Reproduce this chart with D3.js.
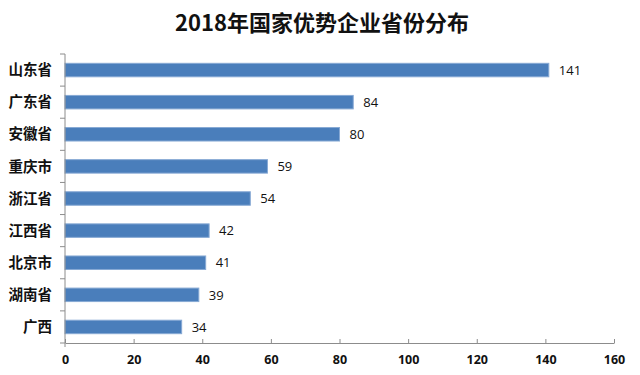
<!DOCTYPE html>
<html>
<head>
<meta charset="utf-8">
<script src="https://cdn.jsdelivr.net/npm/d3@7"></script>
<style>
body{margin:0;background:#fff;}
</style>
</head>
<body>
<script>
const provinces=["山东省","广东省","安徽省","重庆市","浙江省","江西省","北京市","湖南省","广西"];
const counts=[141,84,80,59,54,42,41,39,34];
const xTicks=[0,20,40,60,80,100,120,140,160];
const title="2018年国家优势企业省份分布";

const width=640,height=375;
const svg=d3.select("body").append("svg")
    .attr("width",width)
    .attr("height",height)
    .style("font-family","'Noto Sans CJK SC','Noto Sans',sans-serif");

svg.append("text")
    .attr("x",322)
    .attr("y",31)
    .attr("text-anchor","middle")
    .attr("font-size",22)
    .attr("font-weight","bold")
    .attr("fill","#111")
    .text(title);

const plotL=65,plotR=614,plotT=54,plotB=343;
const x=d3.scaleLinear().domain([0,160]).range([plotL,plotR]);
const y=d3.scaleBand().domain(provinces).range([plotT,plotB]).paddingInner(0.58).paddingOuter(0.29);

// bars
svg.append("g")
    .selectAll("rect")
    .data(counts)
    .enter()
    .append("rect")
    .attr("x",x(0))
    .attr("y",(d,i)=>y(provinces[i]))
    .attr("width",d=>x(d)-x(0))
    .attr("height",y.bandwidth())
    .attr("fill","#4a7ebb")
    .attr("stroke","#87a9d4")
    .attr("stroke-width",1);

// value labels
svg.append("g")
    .selectAll("text")
    .data(counts)
    .enter()
    .append("text")
    .attr("x",d=>x(d)+10)
    .attr("y",(d,i)=>y(provinces[i])+y.bandwidth()/2)
    .attr("dy","0.36em")
    .attr("font-size",13)
    .attr("fill","#111")
    .style("font-family","'Open Sans','Noto Sans',sans-serif")
    .text(d=>d);

// x axis
const xAxis=svg.append("g")
    .attr("transform",`translate(0,${plotB})`)
    .call(d3.axisBottom(x).tickValues(xTicks).tickSizeInner(-4).tickSizeOuter(0).tickPadding(12));
xAxis.select(".domain").attr("stroke","#8c8c8c");
xAxis.selectAll(".tick line").attr("stroke","#8c8c8c");
xAxis.selectAll(".tick text")
    .attr("font-size",12.5)
    .attr("font-weight","bold")
    .attr("fill","#111")
    .style("font-family","'Open Sans','Noto Sans',sans-serif");

// y axis (category boundaries as ticks)
const yAxis=svg.append("g");
yAxis.append("line")
    .attr("x1",plotL).attr("x2",plotL)
    .attr("y1",plotT).attr("y2",plotB+4)
    .attr("stroke","#8c8c8c");
const step=(plotB-plotT)/provinces.length;
yAxis.selectAll("line.tk")
    .data(d3.range(provinces.length+1))
    .enter()
    .append("line")
    .attr("class","tk")
    .attr("x1",plotL-5).attr("x2",plotL)
    .attr("y1",i=>plotT+i*step).attr("y2",i=>plotT+i*step)
    .attr("stroke","#8c8c8c");
yAxis.selectAll("text")
    .data(provinces)
    .enter()
    .append("text")
    .attr("x",52)
    .attr("y",d=>y(d)+y.bandwidth()/2)
    .attr("dy","0.36em")
    .attr("text-anchor","end")
    .attr("font-size",14.5)
    .attr("font-weight",600)
    .attr("fill","#111")
    .text(d=>d);
</script>
</body>
</html>
